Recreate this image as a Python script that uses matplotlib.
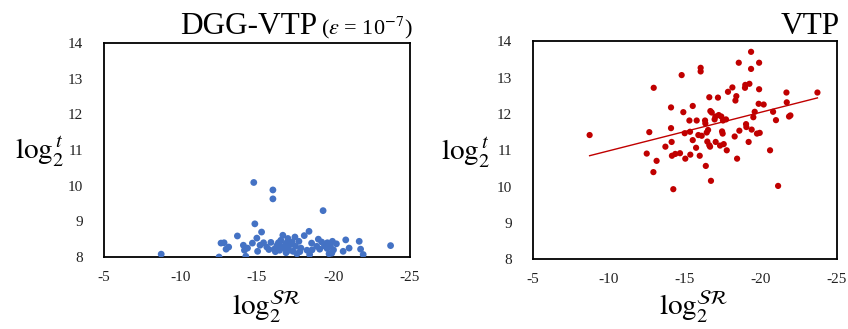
import numpy as np
import matplotlib
matplotlib.use("Agg")
import matplotlib.pyplot as plt

plt.rcParams['font.family'] = ['Liberation Serif', 'DejaVu Serif']
plt.rcParams['mathtext.fontset'] = 'stix'

# ---- data: DGG-VTP (eps = 1e-7) ----
dgg_sr = [-8.74, -12.52, -12.65, -12.85, -12.98, -13.15, -13.72, -14.11, -14.18, -14.27,
          -14.38, -14.70, -14.79, -14.86, -14.99, -15.04, -15.30, -15.43, -15.64, -15.78,
          -15.91, -16.04, -16.04, -16.13, -16.30, -16.48, -16.56, -16.69, -16.78, -16.91,
          -17.02, -17.09, -17.20, -17.35, -17.48, -17.52, -17.61, -17.74, -17.87, -18.09,
          -18.27, -18.40, -18.44, -18.57, -19.01, -19.10, -19.23, -19.32, -19.41, -19.58,
          -19.71, -19.89, -19.93, -20.19, -20.63, -20.80, -21.02, -21.68, -21.77, -21.94,
          -23.73, -16.20, -16.60, -17.00, -17.80, -18.90, -19.60, -16.90, -15.20, -18.60,
          -20.00, -19.80, -17.30, -16.40]
dgg_t = [8.08, 8.00, 8.39, 8.40, 8.22, 8.28, 8.59, 8.33, 8.19, 8.02,
         8.25, 8.39, 10.09, 8.93, 8.53, 8.16, 8.70, 8.40, 8.28, 8.21,
         8.41, 9.88, 9.63, 8.22, 8.32, 8.19, 8.47, 8.61, 8.25, 8.39,
         8.52, 8.19, 8.35, 8.16, 8.56, 8.30, 8.09, 8.44, 8.25, 8.60,
         8.19, 8.72, 8.07, 8.39, 8.50, 8.22, 8.42, 9.30, 8.31, 8.24,
         8.09, 8.11, 8.44, 8.37, 8.16, 8.48, 8.25, 8.44, 8.22, 8.07,
         8.32, 8.15, 8.30, 8.28, 8.15, 8.30, 8.40, 8.12, 8.33, 8.20,
         8.20, 8.30, 8.42, 8.40]

# ---- data: VTP ----
vtp_sr = [-8.73, -12.49, -12.66, -12.95, -12.93, -13.14, -13.72, -14.09, -14.09, -14.13,
          -14.15, -14.24, -14.37, -14.68, -14.79, -14.90, -14.99, -15.03, -15.34, -15.30,
          -15.36, -15.52, -15.52, -15.74, -15.78, -15.98, -15.89, -16.04, -16.04, -16.11,
          -16.33, -16.35, -16.38, -16.44, -16.53, -16.48, -16.61, -16.61, -16.66, -16.68,
          -16.77, -16.72, -16.96, -17.01, -17.03, -17.18, -17.23, -17.32, -17.40, -17.45,
          -17.49, -17.51, -17.56, -17.71, -17.76, -17.84, -18.13, -18.28, -18.33, -18.39,
          -18.44, -18.55, -18.59, -18.96, -18.98, -19.03, -19.05, -19.20, -19.25, -19.36,
          -19.36, -19.40, -19.51, -19.60, -19.75, -19.89, -19.89, -19.86, -19.93, -20.19,
          -20.61, -20.81, -21.00, -21.14, -21.69, -21.71, -21.86, -21.95, -23.73]
vtp_t = [11.42, 10.91, 11.50, 12.72, 10.40, 10.71, 11.10, 12.18, 11.61, 11.23,
         10.85, 9.93, 10.90, 10.92, 13.07, 12.05, 11.47, 10.77, 11.51, 11.82,
         10.88, 12.22, 11.28, 11.07, 11.82, 10.85, 11.42, 13.27, 13.17, 11.40,
         11.82, 11.74, 10.57, 11.49, 11.56, 11.24, 12.46, 11.14, 11.10, 12.08,
         12.04, 10.16, 11.85, 11.93, 11.23, 12.45, 11.97, 11.13, 11.93, 11.52,
         11.46, 11.82, 11.17, 11.85, 11.00, 12.61, 12.73, 11.38, 12.37, 12.49,
         10.77, 13.41, 11.54, 12.72, 12.80, 11.72, 11.64, 11.23, 12.83, 13.71,
         13.24, 11.57, 11.91, 12.06, 11.46, 13.41, 12.68, 12.28, 11.48, 12.26,
         11.00, 12.06, 11.83, 10.02, 12.59, 12.32, 11.93, 11.96, 12.59]

x_ticks = [-5, -10, -15, -20, -25]
y_ticks = [8, 9, 10, 11, 12, 13, 14]

blue = '#4472C4'
red = '#C00000'

fig = plt.figure(figsize=(8.48, 3.29), dpi=100)
axL = fig.add_axes([0.1226, 0.2188, 0.3609, 0.6505])
axR = fig.add_axes([0.6285, 0.2118, 0.3582, 0.6627])

axL.scatter(dgg_sr, dgg_t, s=24, color=blue, edgecolors='none', zorder=3)
axR.scatter(vtp_sr, vtp_t, s=20, color=red, edgecolors='none', zorder=3)

# linear trendline for VTP
coef = np.polyfit(vtp_sr, vtp_t, 1)
xs = np.array([min(vtp_sr), max(vtp_sr)])
axR.plot(xs, np.polyval(coef, xs), color=red, lw=1.0, zorder=2)

label_pos = {axL: ((-0.29, 0.458), (0.53, -0.271)),
             axR: ((-0.304, 0.455), (0.53, -0.255))}

for ax in (axL, axR):
    ax.set_xlim(-5, -25)
    ax.set_ylim(8, 14)
    ax.set_xticks(x_ticks)
    ax.set_yticks(y_ticks)
    ax.set_xticklabels([str(v) for v in x_ticks])
    ax.set_yticklabels([str(v) for v in y_ticks])
    ax.tick_params(length=0, labelsize=11, colors='#222222')
    ax.tick_params(axis='y', pad=15)
    ax.tick_params(axis='x', pad=10)
    for sp in ax.spines.values():
        sp.set_linewidth(1.3)
        sp.set_color('black')
    yl = ax.set_ylabel(r'$\mathrm{log}_2^{\,t}$', fontsize=21, rotation=0)
    xl = ax.set_xlabel(r'$\mathrm{log}_2^{\mathcal{SR}}$', fontsize=21)
    (yx, yy), (xx, xy) = label_pos[ax]
    ax.yaxis.set_label_coords(yx, yy)
    ax.xaxis.set_label_coords(xx, xy)
    yl.set_ha('left')
    yl.set_va('baseline')
    xl.set_va('baseline')

# titles
ty = 1 - 34 / 329
fig.canvas.draw()
small = fig.text(413 / 848, ty, r'($\varepsilon$ = 10$^{-7}$)', fontsize=16,
                 ha='right', va='baseline')
fig.canvas.draw()
bb = small.get_window_extent(fig.canvas.get_renderer())
fig.text((bb.x0 - 4) / 848, ty, 'DGG-VTP', fontsize=22.5, ha='right', va='baseline')
fig.text(840 / 848, ty, 'VTP', fontsize=22.5, ha='right', va='baseline')

fig.savefig('out.png', dpi=100)
